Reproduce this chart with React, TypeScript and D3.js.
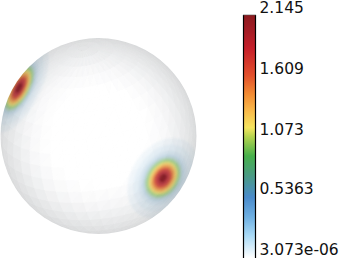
import React from "react";
import * as d3 from "d3";

const colorStops = [0, 0.06, 0.2, 0.36, 0.5363, 0.72, 0.9, 1.073, 1.15, 1.3, 1.45, 1.609, 1.85, 2.0, 2.145];
const colorValues = ["#ffffff", "#e4f3fc", "#a9daf6", "#6fb0e2", "#4a8bcb", "#4a9a86", "#47b04b", "#b6d44f", "#f5e560", "#f9b94a", "#f28a32", "#e2502c", "#c61f2a", "#a51c25", "#8c1a1f"];
const tickValues = [2.145, 1.609, 1.073, 0.5363, 0.000003073];
const tickLabels = ["2.145", "1.609", "1.073", "0.5363", "3.073e-06"];
const tickTextY = [13, 74, 135, 194, 255];

const levelSize = [1.5, 1.25, 1.02, 0.88, 0.78, 0.7, 0.62, 0.55, 0.47, 0.38, 0.28, 0.16];
const levelColor = ["#f3f8fb", "#e8f2f8", "#dbe9f2", "#c9deea", "#bcd9c4", "#a9d78f", "#e0e285", "#f9cc70", "#f09a58", "#dc5a4a", "#c24048", "#8f2029"];

const hotCx = [19, 163];
const hotCy = [88, 178];
const hotRx = [33, 29];
const hotRy = [14, 21];
const hotAngle = [-62, -56];

const shadeRadius = [0, 0.5, 0.68, 0.82, 0.93, 1];
const shadeColor = ["#ffffff", "#ffffff", "#f8f8f9", "#edeeef", "#e2e3e4", "#d8d9da"];

const W = 344, H = 258;
const SX = 98.5, SY = 136, SR = 98;

export default function App() {
  const color = d3.scaleLinear<string>().domain(colorStops).range(colorValues).clamp(true);
  const barY = d3.scaleLinear().domain([0, 2.145]).range([258, 15]);
  const rows = d3.range(0, 243);
  const shade = d3.scaleLinear<string>().domain(shadeRadius).range(shadeColor).clamp(true);
  const proj = d3.geoOrthographic().scale(SR).translate([SX, SY]).rotate([20, -25, 10]).clipAngle(90);
  const path = d3.geoPath(proj);
  const step = 8;
  const cells: { d: string; fill: string }[] = [];
  const addCell = (g: any) => {
    const d = path(g);
    if (!d) return;
    const [cx, cy] = path.centroid(g);
    cells.push({ d, fill: shade(Math.hypot(cx - SX, cy - SY) / SR) });
  };
  for (let lat = -88; lat < 88; lat += step) {
    for (let lon = -180; lon < 180; lon += step) {
      const tris = [
        [[lon, lat], [lon + step, lat], [lon + step, lat + step], [lon, lat]],
        [[lon, lat], [lon + step, lat + step], [lon, lat + step], [lon, lat]],
      ];
      tris.forEach((t) => addCell({ type: "Polygon", coordinates: [t.slice().reverse()] }));
    }
  }
  [90, -90].forEach((lat) => addCell(d3.geoCircle().center([0, lat]).radius(3)()));
  return (
    <svg width={W} height={H} style={{ position: "absolute", left: 0, top: 0, background: "#fff" }} fontFamily="DejaVu Sans">
      <defs>
        <clipPath id="ball"><circle cx={SX} cy={SY} r={SR} /></clipPath>
        <filter id="soft" x="-50%" y="-50%" width="200%" height="200%"><feGaussianBlur stdDeviation="1.3" /></filter>
      </defs>
      <g clipPath="url(#ball)">
        <circle cx={SX} cy={SY} r={SR} fill="#f4f5f5" />
        {cells.map((c, i) => (
          <path key={i} d={c.d} fill={c.fill} stroke={c.fill} strokeWidth={0.6} />
        ))}
        {hotCx.map((cx, h) => (
          <g key={h} transform={`translate(${cx},${hotCy[h]}) rotate(${hotAngle[h]})`} filter="url(#soft)" style={{ mixBlendMode: "multiply" }}>
            {levelSize.map((k, l) => (
              <ellipse key={l} rx={hotRx[h] * k} ry={hotRy[h] * k} fill={levelColor[l]} />
            ))}
          </g>
        ))}
      </g>
      {rows.map((i) => (
        <rect key={i} x={243.5} y={15 + i} width={12} height={1.2} fill={color(barY.invert(15 + i + 0.5))} />
      ))}
      <line x1={243.5} x2={243.5} y1={15} y2={258} stroke="#000" strokeWidth={1.2} />
      <line x1={255.5} x2={255.5} y1={15} y2={258} stroke="#000" strokeWidth={1.2} />
      <line x1={243} x2={256} y1={15} y2={15} stroke="#555" strokeWidth={0.6} />
      {tickValues.map((v, i) => (
        <text key={i} data-value={v} x={259.5} y={tickTextY[i]} fontSize={15.5} fill="#111">
          {tickLabels[i]}
        </text>
      ))}
    </svg>
  );
}
